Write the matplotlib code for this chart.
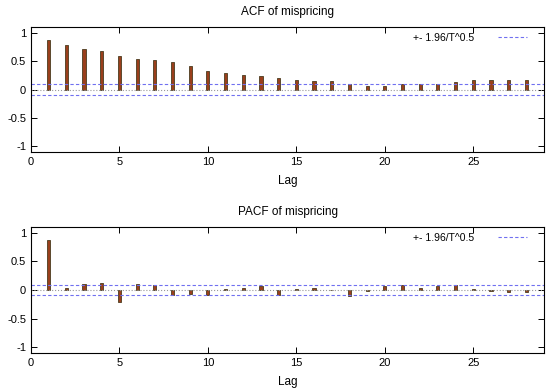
import matplotlib.pyplot as plt
import numpy as np

plt.rcParams['font.family'] = ['Liberation Sans', 'DejaVu Sans']

lags = list(range(1, 29))
acf = [0.875, 0.776, 0.711, 0.67, 0.583, 0.536, 0.513, 0.478, 0.408, 0.332,
       0.29, 0.262, 0.239, 0.198, 0.175, 0.157, 0.146, 0.105, 0.07, 0.07,
       0.093, 0.099, 0.105, 0.134, 0.169, 0.169, 0.163, 0.169]
pacf = [0.866, 0.04, 0.105, 0.128, -0.209, 0.105, 0.093, -0.081, -0.076, -0.093,
        0.02, 0.035, 0.07, -0.09, 0.01, 0.04, 0.005, -0.105, -0.015, 0.075,
        0.08, 0.04, 0.075, 0.08, 0.02, -0.01, -0.04, -0.035]
band = 0.094
titles = ['ACF of mispricing', 'PACF of mispricing']

fig = plt.figure(figsize=(5.5, 3.91), dpi=100)
# axes boxes in pixel terms: left 31, right 544; tops 27 / 227, bottoms 152 / 353
boxes = [(31 / 550, 1 - 152 / 391, 513 / 550, 125 / 391),
         (31 / 550, 1 - 353 / 391, 513 / 550, 126 / 391)]

for box, vals, title in zip(boxes, [acf, pacf], titles):
    ax = fig.add_axes(box)
    ax.bar(lags, vals, width=0.18, color='#9a3f1c', edgecolor='#4a3b1e', linewidth=0.6)
    ax.axhline(0, color='#999999', linestyle=':', linewidth=0.8)
    ax.axhline(band, color='#7070f0', linestyle='--', linewidth=0.8, dashes=(3, 2),
               label='+- 1.96/T^0.5')
    ax.axhline(-band, color='#7070f0', linestyle='--', linewidth=0.8, dashes=(3, 2))
    ax.set_xlim(0, 29)
    ax.set_ylim(-1.1, 1.1)
    ax.set_xticks([0, 5, 10, 15, 20, 25])
    ax.set_yticks([-1, -0.5, 0, 0.5, 1])
    ax.set_yticklabels(['-1', '-0.5', '0', '0.5', '1'])
    ax.tick_params(direction='in', top=True, right=True, labelsize=8, length=4, width=0.7)
    for s in ax.spines.values():
        s.set_linewidth(0.8)
    ax.set_title(title, fontsize=8.5, pad=9)
    ax.set_xlabel('Lag', fontsize=8.5, labelpad=6)
    ax.legend(loc='upper right', bbox_to_anchor=(0.967, 0.955), frameon=False,
              markerfirst=False, fontsize=7.5, handlelength=2.8, handletextpad=2.3,
              borderaxespad=0, borderpad=0)

fig.savefig('out.png', dpi=100)
